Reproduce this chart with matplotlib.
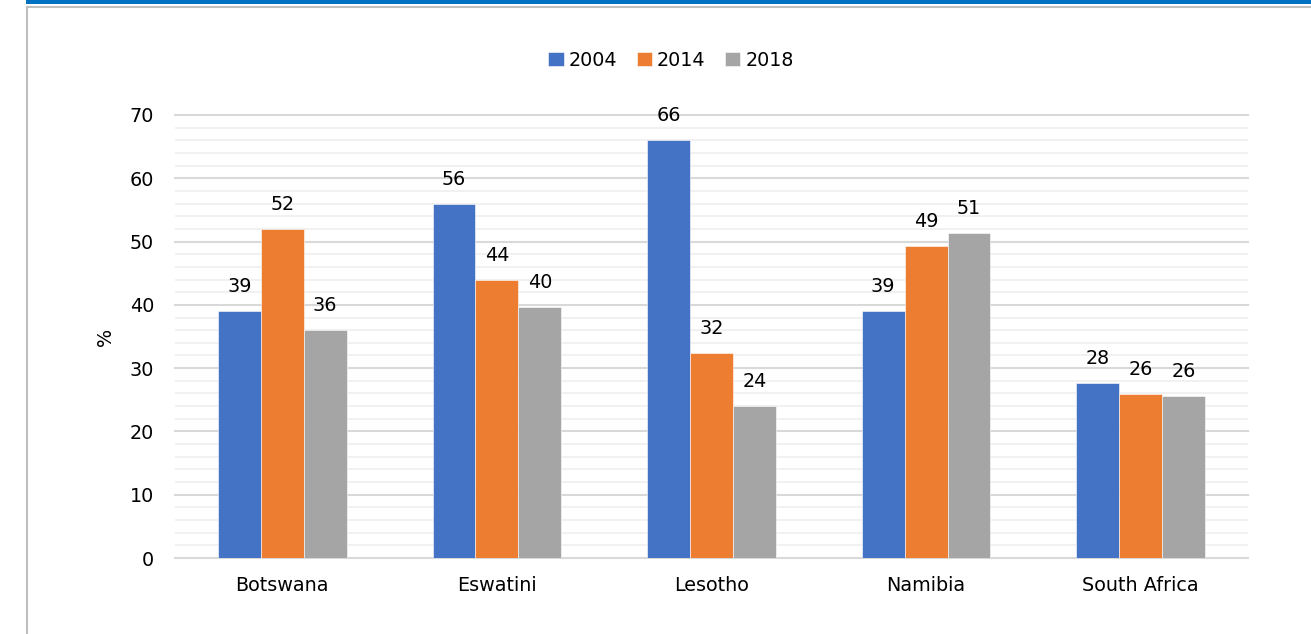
import matplotlib
matplotlib.use("Agg")
import matplotlib.pyplot as plt
from matplotlib.lines import Line2D
from matplotlib.patches import Rectangle
from matplotlib.ticker import MultipleLocator
import numpy as np

categories = ["Botswana", "Eswatini", "Lesotho", "Namibia", "South Africa"]
series_names = ["2004", "2014", "2018"]
values_2004 = [39.0, 56.0, 66.0, 39.0, 27.6]
values_2014 = [52.0, 44.0, 32.4, 49.3, 25.9]
values_2018 = [36.0, 39.6, 24.0, 51.3, 25.6]
colors = ["#4472C4", "#ED7D31", "#A5A5A5"]

plt.rcParams['font.family'] = ['DejaVu Sans']
FS = 13.8

W, H = 1311, 634
fig = plt.figure(figsize=(W / 100, H / 100), dpi=100)
ax = fig.add_axes([175 / W, 1 - 558 / H, 1073 / W, 443 / H])

x = np.arange(len(categories))
bw = 0.2
all_vals = [values_2004, values_2014, values_2018]
for i, (vals, name, c) in enumerate(zip(all_vals, series_names, colors)):
    pos = x + (i - 1) * bw
    ax.bar(pos, vals, width=bw, color=c, label=name, zorder=3,
           edgecolor="white", linewidth=0.4)
    for xp, v in zip(pos, vals):
        ax.annotate(f"{v:.0f}", (xp, v), xytext=(0, 13.7), textcoords="offset points",
                    ha="center", va="baseline", fontsize=FS, color="#000000")

ax.set_xlim(-0.5, len(categories) - 0.5)
ax.set_ylim(0, 70)
ax.yaxis.set_major_locator(MultipleLocator(10))
ax.yaxis.set_minor_locator(MultipleLocator(2))
ax.grid(axis="y", which="major", color="#D9D9D9", linewidth=1.5, zorder=0)
ax.grid(axis="y", which="minor", color="#F0F0F0", linewidth=1.3, zorder=0)
ax.set_axisbelow(True)
for s in ax.spines.values():
    s.set_visible(False)
ax.set_xticks(x)
ax.set_xticklabels(categories)
ax.tick_params(axis="both", which="both", length=0, labelsize=FS)
ax.tick_params(axis="x", pad=13)
ax.tick_params(axis="y", pad=15)
ax.set_ylabel("%", fontsize=FS)
ax.yaxis.set_label_coords(-0.056, 0.5)

fig.canvas.draw()
for gl in ax.yaxis.get_gridlines():
    gl.set_clip_on(False)

fig.legend(loc="center", bbox_to_anchor=(671 / W, 1 - 60 / H), ncol=3, frameon=False,
           fontsize=FS, handlelength=0.8, handleheight=0.75, handletextpad=0.27,
           columnspacing=1.0)

# decorative frame
fig.add_artist(Rectangle((26 / W, 1 - 3.5 / H), 1 - 26 / W, 3.5 / H, transform=fig.transFigure,
                         color="#0070C0", lw=0))
fig.add_artist(Line2D([27 / W, 1], [1 - 7 / H, 1 - 7 / H], transform=fig.transFigure,
                      color="#BFBFBF", lw=1.5))
fig.add_artist(Line2D([27 / W, 27 / W], [0, 1 - 7 / H], transform=fig.transFigure,
                      color="#BFBFBF", lw=1.5))

fig.savefig("out.png", dpi=100)
